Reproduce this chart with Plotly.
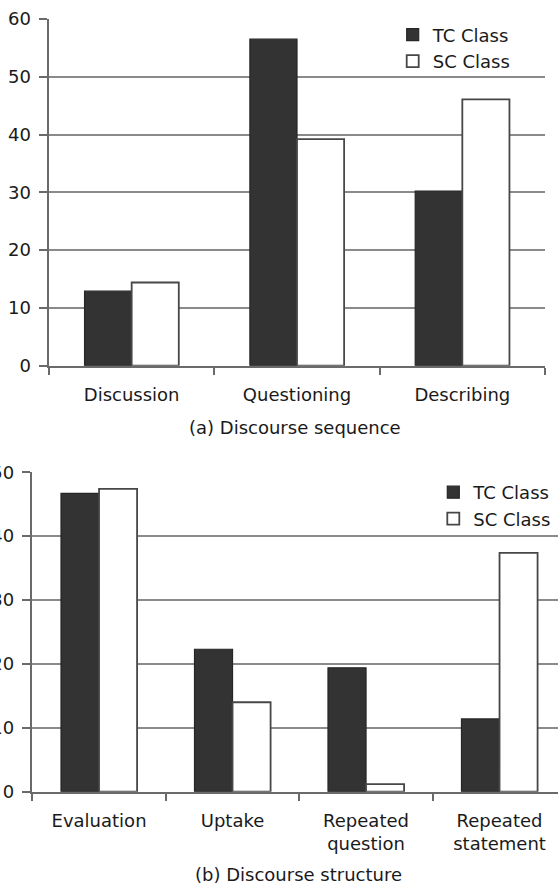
import plotly.graph_objects as go

# ---- data (a) Discourse sequence ----
cats_a = ["Discussion", "Questioning", "Describing"]
tc_a = [12.9, 56.5, 30.2]
sc_a = [14.4, 39.2, 46.1]

# ---- data (b) Discourse structure ----
cats_b = ["Evaluation", "Uptake", "Repeated<br>question", "Repeated<br>statement"]
tc_b = [46.7, 22.3, 19.4, 11.4]
sc_b = [47.4, 14.0, 1.2, 37.4]

yticks_a = [0, 10, 20, 30, 40, 50, 60]
yticks_b = [0, 10, 20, 30, 40, 50]

W, H = 558, 884
FONT = "DejaVu Sans, Verdana, sans-serif"
TXT = "#1a1a1a"
DARK = "#333333"
EDGE = "#474747"
GRID = "#8a8a8a"
AXIS = "#6a6a6a"

def px_x(p):
    return p / W

def px_y(p):
    return 1 - p / H

fig = go.Figure()
fig.add_trace(go.Bar(x=cats_a, y=tc_a, name="TC Class", marker=dict(color=DARK, line=dict(color="#262626", width=1.2)),
                     xaxis="x", yaxis="y", legend="legend"))
fig.add_trace(go.Bar(x=cats_a, y=sc_a, name="SC Class", marker=dict(color="white", line=dict(color=EDGE, width=1.8)),
                     xaxis="x", yaxis="y", legend="legend"))
fig.add_trace(go.Bar(x=cats_b, y=tc_b, name="TC Class", marker=dict(color=DARK, line=dict(color="#262626", width=1.2)),
                     xaxis="x2", yaxis="y2", legend="legend2"))
fig.add_trace(go.Bar(x=cats_b, y=sc_b, name="SC Class", marker=dict(color="white", line=dict(color=EDGE, width=1.8)),
                     xaxis="x2", yaxis="y2", legend="legend2"))

axis_common = dict(showline=True, linecolor=AXIS, linewidth=2.5, ticks="outside", tickcolor=AXIS,
                   tickwidth=2, tickfont=dict(family=FONT, size=18, color=TXT), fixedrange=True)

fig.update_layout(
    width=W, height=H,
    margin=dict(l=0, r=0, t=0, b=0, autoexpand=False),
    paper_bgcolor="white", plot_bgcolor="white",
    barmode="group", bargap=0.43, bargroupgap=0,
    font=dict(family=FONT, size=18, color=TXT),
    xaxis=dict(domain=[px_x(49), px_x(545)], anchor="y", type="category", categoryorder="array",
               categoryarray=cats_a, range=[-0.5, 2.5], tickson="boundaries", ticklen=7,
               showgrid=False, automargin=False, ticklabelstandoff=11, **axis_common),
    yaxis=dict(domain=[px_y(365.7), px_y(19)], anchor="x", range=[0, 60], tickvals=yticks_a,
               ticklen=8, showgrid=True, gridcolor=GRID, gridwidth=2, zeroline=False,
               automargin=False, ticklabelstandoff=4, **axis_common),
    xaxis2=dict(domain=[px_x(32.3), 1.0], anchor="y2", type="category", categoryorder="array",
                categoryarray=cats_b, range=[-0.5, 3.438], tickson="boundaries", ticklen=7,
                showgrid=False, automargin=False, ticklabelstandoff=11, **axis_common),
    yaxis2=dict(domain=[px_y(791.7), px_y(472.3)], anchor="x2", range=[0, 50], tickvals=yticks_b,
                ticklen=8, showgrid=True, gridcolor=GRID, gridwidth=2, zeroline=False,
                automargin=False, ticklabelstandoff=4, **axis_common),
    legend=dict(x=px_x(392.7), y=px_y(16.5), xanchor="left", yanchor="top", bgcolor="rgba(0,0,0,0)",
                font=dict(family=FONT, size=18, color=TXT), tracegroupgap=0, itemclick=False),
    legend2=dict(x=px_x(433.3), y=px_y(474), xanchor="left", yanchor="top", bgcolor="rgba(0,0,0,0)",
                 font=dict(family=FONT, size=18, color=TXT), tracegroupgap=0, itemclick=False),
    annotations=[
        dict(text="(a) Discourse sequence", x=px_x(294.5), y=px_y(427), xref="paper", yref="paper",
             showarrow=False, xanchor="center", yanchor="middle", font=dict(family=FONT, size=18, color=TXT)),
        dict(text="(b) Discourse structure", x=px_x(298), y=px_y(874), xref="paper", yref="paper",
             showarrow=False, xanchor="center", yanchor="middle", font=dict(family=FONT, size=18, color=TXT)),
    ],
    showlegend=True,
)

fig.write_html("out.html", config={"displayModeBar": False, "staticPlot": True},
               post_script="document.body.style.margin='0px';document.body.style.overflow='hidden';")
